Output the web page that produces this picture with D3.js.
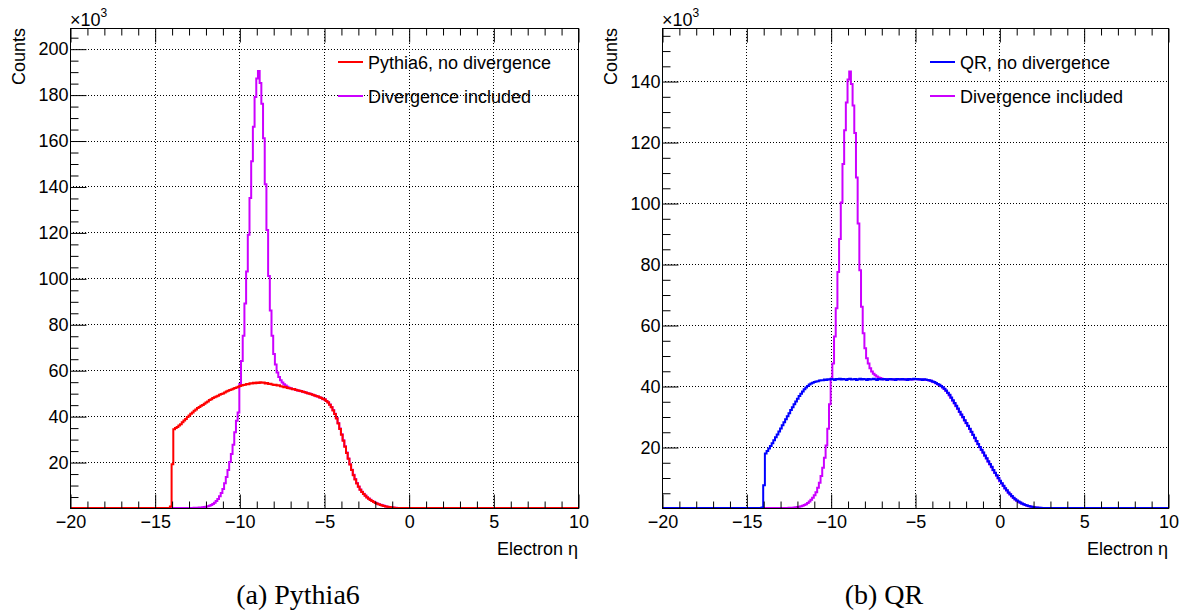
<!DOCTYPE html>
<html>
<head>
<meta charset="utf-8">
<script src="https://cdn.jsdelivr.net/npm/d3@7"></script>
<style>
  html, body { margin: 0; padding: 0; background: #fff; }
  svg { display: block; }
  text { font-family: "Liberation Sans", Arial, Helvetica, sans-serif; fill: #000; }
  .cap { font-family: "Liberation Serif", "Times New Roman", serif; }
</style>
</head>
<body>
<svg id="chart" width="1188" height="615"></svg>
<script>
// ---------------- data (counts in units of 10^3, 0.1-wide bins in electron eta) ----------------
const etaRange = [-20, 10];
const binWidth = 0.1;
const xTickValues = [-20, -15, -10, -5, 0, 5, 10];

// Panel (a): Pythia6
const pythiaLabels = ["Pythia6, no divergence", "Divergence included"];
const pythiaNoDivStart = -14.1;
const pythiaNoDiv = [0.6, 19.0, 34.3, 34.8, 35.3, 35.9, 36.5, 37.3, 38.1, 38.8, 39.6, 40.3, 41.0, 41.6, 42.3, 42.9, 43.5, 44.0, 44.5, 44.9,
  45.4, 45.9, 46.4, 47.0, 47.4, 47.9, 48.2, 48.6, 48.9, 49.3, 49.6, 49.9, 50.3, 50.7, 51.0, 51.4, 51.6, 51.9, 52.3, 52.5,
  52.8, 53.1, 53.3, 53.6, 53.7, 54.0, 53.9, 54.3, 54.2, 54.5, 54.3, 54.6, 54.4, 54.7, 54.5, 54.6, 54.2, 54.4, 54.0, 54.1,
  53.8, 53.6, 53.7, 53.3, 53.4, 53.0, 52.9, 52.6, 52.7, 52.3, 52.1, 52.0, 51.7, 51.8, 51.4, 51.3, 51.0, 50.9, 50.6, 50.5,
  50.2, 50.0, 49.8, 49.5, 49.3, 49.0, 48.8, 48.5, 48.2, 47.9, 47.5, 47.2, 46.6, 45.9, 45.0, 43.9, 42.5, 40.9, 39.0, 36.8,
  34.4, 31.9, 29.3, 26.7, 24.0, 21.4, 18.9, 16.5, 14.3, 12.4, 10.7, 9.3, 8.0, 7.0, 6.1, 5.3, 4.6, 4.0, 3.5, 3.0,
  2.6, 2.2, 1.9, 1.6, 1.35, 1.1, 0.9, 0.7, 0.55, 0.4, 0.28, 0.18, 0.1, 0.05, 0.02];
const pythiaDivStart = -13.1;
const pythiaDiv = [0.01, 0.02, 0.03, 0.05, 0.07, 0.1, 0.13, 0.18, 0.24, 0.32, 0.43, 0.57, 0.75, 1.0, 1.3, 1.75, 2.3, 3.0, 3.9, 5.1,
  6.5, 8.3, 10.8, 13.5, 16.5, 20.0, 23.5, 27.5, 33.0, 38.0, 41.6, 54, 64, 75, 89, 103, 119, 135, 151, 166,
  179, 187, 190.3, 185, 176, 161, 141, 121, 101, 86, 75, 67, 62.5, 59, 57, 55.6, 54.6, 53.9, 53.3, 52.8,
  52.4, 52.1, 51.8, 51.7, 51.5, 51.2, 51.1, 50.8, 50.7, 50.4, 50.3, 50.0, 49.9, 49.6, 49.2, 49.1, 48.7, 48.6, 48.1, 48.0,
  47.4, 47.3, 46.6, 46.0, 45.1, 44.0, 42.7, 41.0, 39.2, 37.0, 34.6, 32.1, 29.5, 26.9, 24.2, 21.6, 19.1, 16.7, 14.5, 12.6,
  10.9, 9.4, 8.1, 7.1, 6.2, 5.4, 4.7, 4.1, 3.6, 3.1, 2.7, 2.3, 1.95, 1.65, 1.4, 1.15, 0.95, 0.75, 0.58, 0.43,
  0.3, 0.2, 0.11, 0.06, 0.03];
const pythiaYMax = 209;
const pythiaYTicks = [20, 40, 60, 80, 100, 120, 140, 160, 180, 200];

// Panel (b): QR
const qrLabels = ["QR, no divergence", "Divergence included"];
const qrNoDivStart = -14.1;
const qrNoDiv = [0.2, 7.5, 17.9, 18.7, 19.5, 20.3, 21.2, 22.2, 23.2, 24.1, 25.1, 26.1, 27.1, 28.1, 29.1, 30.1, 31.1, 32.1, 33.0, 34.0,
  34.9, 35.8, 36.7, 37.5, 38.2, 38.9, 39.5, 40.0, 40.5, 40.8, 41.1, 41.3, 41.5, 41.6, 41.8, 41.9, 41.9, 42.1, 42.0, 42.2,
  42.1, 42.3, 42.2, 42.0, 42.3, 42.2, 42.4, 42.1, 42.3, 42.2, 42.0, 42.3, 42.4, 42.1, 42.2, 42.3, 42.0, 42.2, 42.4, 42.1,
  42.3, 42.2, 42.0, 42.3, 42.1, 42.2, 42.4, 42.2, 42.0, 42.3, 42.2, 42.1, 42.3, 42.2, 42.0, 42.2, 42.3, 42.1, 42.2, 42.0,
  42.3, 42.2, 42.1, 42.3, 42.1, 42.2, 42.0, 42.3, 42.1, 42.2, 42.4, 42.2, 42.3, 42.1, 42.2, 42.0, 42.2, 42.1, 42.0, 41.9,
  41.7, 41.5, 41.3, 41.0, 40.7, 40.4, 40.0, 39.6, 39.1, 38.5, 37.8, 37.1, 36.2, 35.3, 34.4, 33.5, 32.6, 31.6, 30.7, 29.8,
  28.8, 27.9, 27.0, 26.0, 25.0, 24.0, 23.0, 22.0, 21.0, 20.0, 19.1, 18.2, 17.2, 16.3, 15.3, 14.4, 13.5, 12.5, 11.6, 10.7,
  9.8, 8.9, 8.1, 7.3, 6.5, 5.8, 5.1, 4.5, 3.9, 3.4, 2.9, 2.5, 2.1, 1.8, 1.5, 1.25, 1.0, 0.8, 0.65, 0.5,
  0.38, 0.28, 0.2, 0.14, 0.09, 0.05, 0.02];
const qrDivStart = -12.9;
const qrDiv = [0.01, 0.02, 0.03, 0.04, 0.06, 0.09, 0.12, 0.16, 0.22, 0.3, 0.4, 0.54, 0.72, 0.95, 1.25, 1.6, 2.1, 2.7, 3.4, 4.2,
  5.2, 6.6, 8.3, 10.5, 13.2, 16.5, 20.5, 26.0, 34.0, 42.5, 47.4, 56.2, 65.5, 77.4, 88.2, 100.2, 112.8, 123.9, 133.0, 140.5,
  143.1, 139.0, 132.0, 123.0, 108.4, 93.3, 78.0, 66.0, 57.3, 52.4, 49.1, 47.4, 45.8, 44.8, 44.0, 43.5, 43.1, 42.8, 42.6, 42.4,
  42.2, 42.3, 42.1, 42.3, 42.2, 42.2, 42.1, 42.2, 42.2, 42.3, 42.2, 42.2, 42.2, 42.1, 42.2, 42.2, 42.2, 42.1, 42.3, 42.3,
  42.2, 42.2, 42.1, 42.1, 42.1, 42.0, 42.0, 41.8, 41.7, 41.4, 41.2, 40.9, 40.6, 40.3, 39.9, 39.5, 39.0, 38.4, 37.7, 36.9,
  36.1, 35.2, 34.3, 33.4, 32.5, 31.5, 30.6, 29.7, 28.7, 27.8, 26.9, 25.9, 24.9, 23.9, 22.9, 21.9, 20.9, 19.9, 19.0, 18.1,
  17.1, 16.2, 15.2, 14.3, 13.4, 12.4, 11.5, 10.6, 9.7, 8.8, 8.0, 7.2, 6.4, 5.7, 5.0, 4.4, 3.8, 3.3, 2.8, 2.4,
  2.0, 1.7, 1.4, 1.2, 0.95, 0.75, 0.6, 0.46, 0.35, 0.26, 0.18, 0.12, 0.08, 0.04, 0.02];
const qrYMax = 157.4;
const qrYTicks = [20, 40, 60, 80, 100, 120, 140];

const xTitle = "Electron \u03b7";
const yTitle = "Counts";
const captions = ["(a) Pythia6", "(b) QR"];

// ---------------- drawing ----------------
const svg = d3.select("#chart");
svg.append("rect").attr("width", 1188).attr("height", 615).attr("fill", "#fff");

function fullHist(start, vals) {
  const n = Math.round((etaRange[1] - etaRange[0]) / binWidth);
  const pts = [];
  for (let i = 0; i < n; i++) {
    const edge = etaRange[0] + i * binWidth;
    const j = Math.round((edge - start) / binWidth);
    const v = (j >= 0 && j < vals.length) ? vals[j] : 0;
    pts.push([edge, v]);
  }
  pts.push([etaRange[1], pts[pts.length - 1][1]]);
  return pts;
}

const fmt = d => (d < 0 ? "\u2212" + Math.abs(d) : String(d));

function panel(cfg) {
  const g = svg.append("g");
  const x = d3.scaleLinear().domain(etaRange).range([cfg.left, cfg.right]);
  const y = d3.scaleLinear().domain([0, cfg.yMax]).range([cfg.bottom, cfg.top]);

  // grid
  const grid = g.append("g").attr("stroke", "#000").attr("stroke-width", 1).attr("stroke-dasharray", "1,2");
  xTickValues.filter(v => v > etaRange[0] && v < etaRange[1]).forEach(v => {
    grid.append("line").attr("x1", Math.round(x(v)) + 0.5).attr("x2", Math.round(x(v)) + 0.5)
      .attr("y1", cfg.top).attr("y2", cfg.bottom);
  });
  cfg.yTicks.forEach(v => {
    grid.append("line").attr("y1", Math.round(y(v)) + 0.5).attr("y2", Math.round(y(v)) + 0.5)
      .attr("x1", cfg.left).attr("x2", cfg.right);
  });

  // histograms
  const line = d3.line().x(d => x(d[0])).y(d => y(d[1])).curve(d3.curveStepAfter);
  cfg.series.forEach(s => {
    g.append("path").datum(fullHist(s.start, s.values))
      .attr("fill", "none").attr("stroke", s.color).attr("stroke-width", 2)
      .attr("d", line);
  });

  // frame
  g.append("rect").attr("x", cfg.left + 0.5).attr("y", cfg.top + 0.5)
    .attr("width", cfg.right - cfg.left).attr("height", cfg.bottom - cfg.top)
    .attr("fill", "none").attr("stroke", "#000").attr("stroke-width", 1);

  const minorX = d3.range(etaRange[0], etaRange[1] + 0.001, 1).filter(v => xTickValues.indexOf(v) < 0);
  const minorY = d3.range(5, cfg.yMax, 5).filter(v => v % 20 !== 0);

  function styleAxis(sel) {
    sel.select(".domain").remove();
    sel.selectAll(".tick line").attr("stroke", "#000").attr("stroke-width", 1);
    sel.selectAll("text").attr("font-size", 18).attr("fill", "#000")
      .style("font-family", '"Liberation Sans", Arial, sans-serif');
  }
  // bottom axis
  g.append("g").attr("transform", `translate(0.5,${cfg.bottom + 0.5})`)
    .call(d3.axisBottom(x).tickValues(xTickValues).tickFormat(fmt).tickSize(-14).tickPadding(6.5))
    .call(styleAxis);
  g.append("g").attr("transform", `translate(0.5,${cfg.bottom + 0.5})`)
    .call(d3.axisBottom(x).tickValues(minorX).tickFormat("").tickSize(-7)).call(styleAxis);
  // top axis
  g.append("g").attr("transform", `translate(0.5,${cfg.top + 0.5})`)
    .call(d3.axisTop(x).tickValues(xTickValues).tickFormat("").tickSize(-14)).call(styleAxis);
  g.append("g").attr("transform", `translate(0.5,${cfg.top + 0.5})`)
    .call(d3.axisTop(x).tickValues(minorX).tickFormat("").tickSize(-7)).call(styleAxis);
  // left axis
  g.append("g").attr("transform", `translate(${cfg.left + 0.5},0.5)`)
    .call(d3.axisLeft(y).tickValues(cfg.yTicks).tickFormat(d3.format("d")).tickSize(-16).tickPadding(2))
    .call(styleAxis);
  g.append("g").attr("transform", `translate(${cfg.left + 0.5},0.5)`)
    .call(d3.axisLeft(y).tickValues(minorY).tickFormat("").tickSize(-8)).call(styleAxis);

  // exponent
  g.append("text").attr("x", cfg.left).attr("y", 26).attr("font-size", 18).text("\u00d710");
  g.append("text").attr("x", cfg.left + 30.5).attr("y", 17).attr("font-size", 12).text("3");

  // axis titles
  g.append("text").attr("x", cfg.right).attr("y", 555).attr("text-anchor", "end")
    .attr("font-size", 18).text(xTitle);
  g.append("text").attr("transform", `translate(${cfg.left - 45},${cfg.top}) rotate(-90)`)
    .attr("text-anchor", "end").attr("font-size", 18).text(yTitle);

  // legend
  cfg.legend.forEach((l, i) => {
    const ly = 62 + i * 34;
    g.append("line").attr("x1", cfg.legX).attr("x2", cfg.legX + 25)
      .attr("y1", ly).attr("y2", ly).attr("stroke", l.color).attr("stroke-width", 2);
    g.append("text").attr("x", cfg.legX + 30).attr("y", ly + 7).attr("font-size", 18).text(l.label);
  });

  // caption
  g.append("text").attr("class", "cap").attr("x", cfg.capX).attr("y", 604)
    .attr("text-anchor", "middle").attr("font-size", 28).text(cfg.caption);
}

panel({
  left: 70, right: 578, top: 28, bottom: 508, yMax: pythiaYMax, yTicks: pythiaYTicks,
  series: [
    { start: pythiaDivStart, values: pythiaDiv, color: "#cc00ff" },
    { start: pythiaNoDivStart, values: pythiaNoDiv, color: "#ff0000" }
  ],
  legend: [{ label: pythiaLabels[0], color: "#ff0000" }, { label: pythiaLabels[1], color: "#cc00ff" }],
  legX: 338, capX: 298, caption: captions[0]
});
panel({
  left: 662, right: 1168, top: 28, bottom: 508, yMax: qrYMax, yTicks: qrYTicks,
  series: [
    { start: qrDivStart, values: qrDiv, color: "#cc00ff" },
    { start: qrNoDivStart, values: qrNoDiv, color: "#0000ff" }
  ],
  legend: [{ label: qrLabels[0], color: "#0000ff" }, { label: qrLabels[1], color: "#cc00ff" }],
  legX: 930, capX: 884, caption: captions[1]
});
</script>
</body>
</html>
